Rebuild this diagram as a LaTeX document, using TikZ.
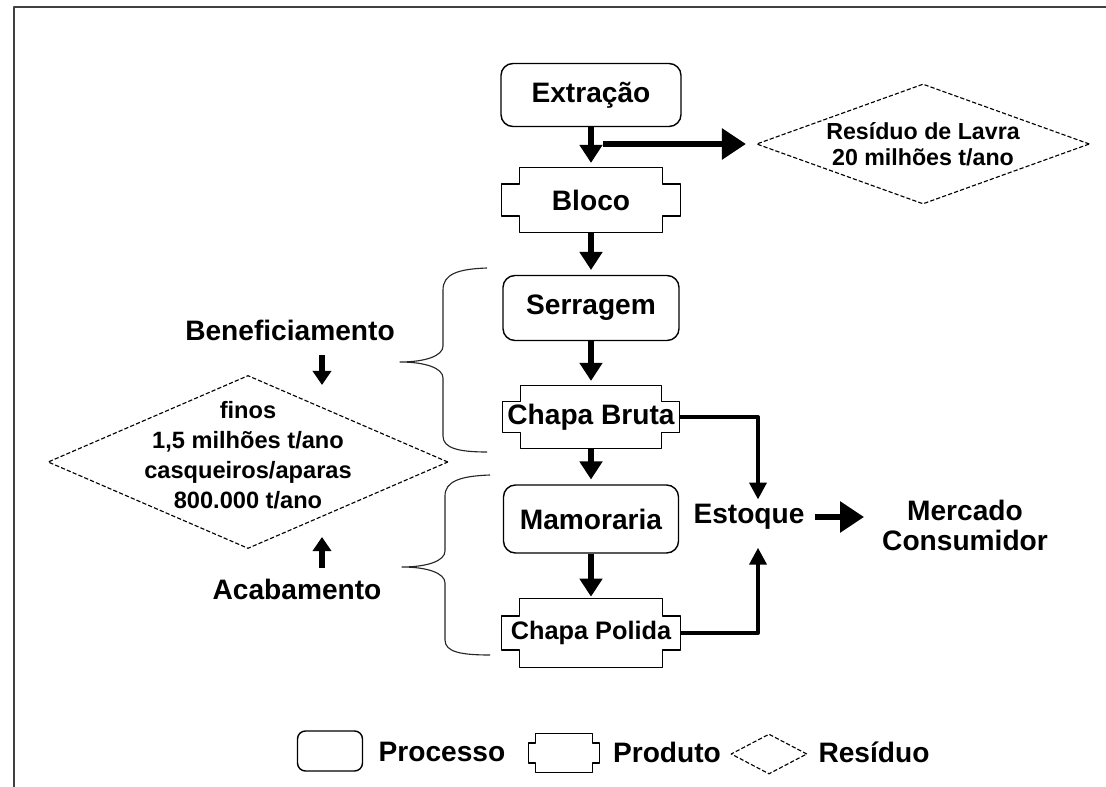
\documentclass[tikz,border=0pt]{standalone}
\usepackage{fontspec}
\setmainfont{Liberation Sans}
\usetikzlibrary{arrows.meta,shapes.geometric,calc}

\tikzset{
  processo/.style={draw,rounded corners=0.3cm,line width=1pt,inner sep=0pt,font=\fontsize{20}{24}\selectfont\bfseries},
  produto/.style={inner sep=0pt,font=\fontsize{20}{24}\selectfont\bfseries},
  prodlinha/.style={line width=1pt},
  residuo/.style={draw,diamond,inner sep=0pt,line width=0.8pt,dash pattern=on 3pt off 1.5pt},
  restxt/.style={align=center,font=\fontsize{16.8}{21.3}\selectfont\bfseries},
  rotulo/.style={align=center,font=\fontsize{20}{21.3}\selectfont\bfseries},
  chave/.style={line width=0.8pt,black!85},
  seta/.style={line width=4.3pt,-{Triangle[length=0.45cm,width=0.55cm]}},
  setalarga/.style={line width=4.5pt,-{Triangle[length=0.6cm,width=0.75cm]}},
  setafina/.style={line width=2.8pt,-{Triangle[length=0.42cm,width=0.42cm]}},
  setacurta/.style={line width=3.6pt,-{Triangle[length=0.35cm,width=0.45cm]}},
}

\begin{document}
\begin{tikzpicture}[x=0.025cm,y=-0.025cm,line join=round]
\useasboundingbox (0,0) rectangle (1106,787);
% moldura
\draw[black!75,line width=1.4pt] (14,787) -- (14,7) -- (1106,7);

% coluna principal
\node[processo,minimum width=4.5cm,minimum height=1.575cm] (extr) at (591,95) {Extração};
\node[produto,minimum width=4.45cm,minimum height=1.6cm] (bloco) at (591,200) {Bloco};
\node[processo,minimum width=4.4cm,minimum height=1.625cm] (serr) at (591,308) {Serragem};
\node[produto,minimum width=4.4cm,minimum height=1.55cm] (bruta) at (591,417) {Chapa Bruta};
\node[processo,minimum width=4.375cm,minimum height=1.7cm] (mamor) at (591,519) {Mamoraria};
\node[produto,minimum width=4.45cm,minimum height=1.7cm,font=\fontsize{18}{22}\selectfont\bfseries] (polida) at (591,633) {Chapa Polida};

% residuos
\node[residuo,minimum width=8.325cm,minimum height=3cm,
  label={[restxt,font=\fontsize{16.5}{18.5}\selectfont\bfseries]center:{Resíduo de Lavra\\20 milhões t/ano}}] (lavra) at (923,144) {};
\node[residuo,minimum width=10cm,minimum height=4.325cm,
  label={[restxt,yshift=0.18cm]center:{finos\\1,5 milhões t/ano\\casqueiros/aparas\\800.000 t/ano}}] (finos) at (248,462) {};

% rotulos laterais
\node[rotulo] (benef) at (290,330) {Beneficiamento};
\node[rotulo] (acab) at (297,589) {Acabamento};
\coordinate (bt) at (322,385);
\coordinate (ac) at (322,537);
\draw[setacurta,shorten <=0.25cm] (benef.south -| bt) -- (bt);
\draw[setacurta,shorten <=0.15cm] (acab.north -| ac) -- (ac);

% chaves
\draw[chave] (487,268) .. controls (458,269) and (443,274) .. (443,290) -- (443,346)
  .. controls (443,356) and (425,362) .. (400,362) .. controls (425,362) and (443,368) .. (443,378)
  -- (443,436) .. controls (443,448) and (458,452) .. (487,452);
\draw[chave] (490,475) .. controls (461,476) and (445,481) .. (445,496) -- (445,551)
  .. controls (445,561) and (427,567) .. (402,567) .. controls (427,567) and (445,573) .. (445,583)
  -- (445,640) .. controls (445,652) and (461,655) .. (490,655);

% estoque e mercado
\node[rotulo] (estq) at (749,517) {Estoque};
\node[rotulo] (merc) at (965,525) {Mercado\\Consumidor};

% legenda
\node[processo,rounded corners=0.2cm,minimum width=1.625cm,minimum height=1cm] (lproc) at (330,751) {};
\node[rotulo] (tproc) at (442,752) {Processo};
\node[produto,minimum width=1.75cm,minimum height=0.975cm] (lprod) at (564,753) {};
\node[rotulo] (tprod) at (667,752) {Produto};
\node[residuo,minimum width=1.9cm,minimum height=1cm] (lres) at (769,754) {};
\node[rotulo] (tres) at (874,752) {Resíduo};

% contorno dos produtos
\foreach \nd in {bloco,bruta,polida,lprod}
  \draw[prodlinha] let \p1=(\nd.north west), \p2=(\nd.south east),
    \n1={0.1*(\x2-\x1)}, \n2={0.25*(\y1-\y2)} in
    (\x1+\n1,\y1) -- (\x2-\n1,\y1) -- (\x2-\n1,\y1-\n2) -- (\x2,\y1-\n2) -- (\x2,\y2+\n2)
    -- (\x2-\n1,\y2+\n2) -- (\x2-\n1,\y2) -- (\x1+\n1,\y2) -- (\x1+\n1,\y2+\n2)
    -- (\x1,\y2+\n2) -- (\x1,\y1-\n2) -- (\x1+\n1,\y1-\n2) -- cycle;

% fluxo
\draw[seta,shorten >=0.12cm] (extr) -- (bloco);
\draw[seta,shorten >=0.12cm] (bloco) -- (serr);
\draw[seta,shorten >=0.12cm] (serr) -- (bruta);
\draw[seta,shorten >=0.12cm] (bruta) -- (mamor);
\draw[seta,shorten >=0.05cm] (mamor) -- (polida);
\coordinate (desvio) at (603,144);
\draw[setalarga,shorten >=0.25cm] (desvio) -- (lavra.west);
\draw[setafina] (bruta.east) -| ([xshift=0.225cm]estq.north);
\draw[setafina,shorten >=0.33cm] (polida.east) -| ([xshift=0.225cm]estq.south);
\draw[setalarga,shorten <=0.15cm,shorten >=0.33cm] (estq.east) -- (estq.east -| merc.west);
\end{tikzpicture}
\end{document}
